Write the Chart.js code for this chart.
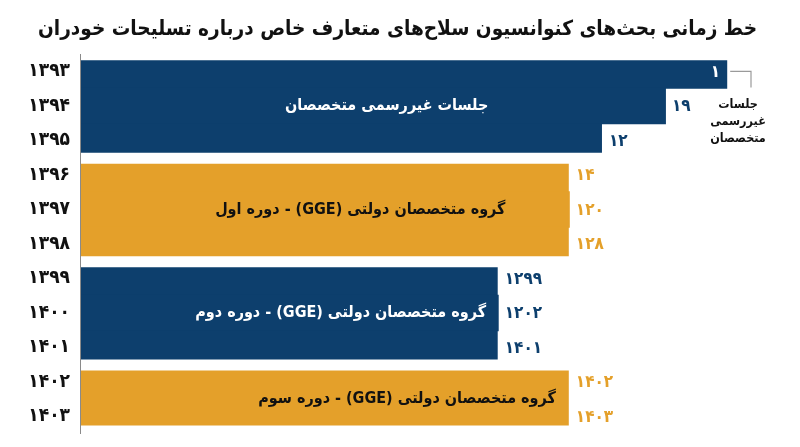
<!DOCTYPE html>
<html lang="fa">
<head>
<meta charset="utf-8">
<title>خط زمانی بحث‌های کنوانسیون سلاح‌های متعارف</title>
<script src="https://cdn.jsdelivr.net/npm/chart.js@4.4.1/dist/chart.umd.min.js"></script>
<style>
  html, body { margin: 0; padding: 0; background: #fff; }
  #wrap { width: 800px; height: 447px; position: relative; }
</style>
</head>
<body>
<div id="wrap"><canvas id="timeline"></canvas></div>
<script>
// Data
const years = ['۱۳۹۳', '۱۳۹۴', '۱۳۹۵', '۱۳۹۶', '۱۳۹۷', '۱۳۹۸', '۱۳۹۹', '۱۴۰۰', '۱۴۰۱', '۱۴۰۲', '۱۴۰۳'];
const spans = [95.6, 86.4, 77.1, 72.2, 72.2, 72.2, 61.7, 61.7, 61.7, 72.2, 72.2];
const endLabels = ['۱', '۱۹', '۱۲', '۱۴', '۱۲۰', '۱۲۸', '۱۲۹۹', '۱۲۰۲', '۱۴۰۱', '۱۴۰۲', '۱۴۰۳'];
const rowGroup = [0, 0, 0, 1, 1, 1, 2, 2, 2, 3, 3];
const groupNames = [
    'جلسات غیررسمی متخصصان',
    'گروه متخصصان دولتی (GGE) - دوره اول',
    'گروه متخصصان دولتی (GGE) - دوره دوم',
    'گروه متخصصان دولتی (GGE) - دوره سوم'
];
const noteLines = ['جلسات', 'غیررسمی', 'متخصصان'];
const titleText = 'خط زمانی بحث‌های کنوانسیون سلاح‌های متعارف خاص درباره تسلیحات خودران';

// Styles
const BLUE = '#0d3f6d';
const ORANGE = '#e4a02a';
const groupColors = [BLUE, ORANGE, BLUE, ORANGE];
const groupTextColors = ['#ffffff', '#111111', '#ffffff', '#111111'];
const groupLabelAt = [45.3, 41.4, 38.5, 48.3];   // centre of each group caption, in x-scale units
const insideRows = [0];                           // end label drawn inside the bar
const FONT = '"DejaVu Sans Condensed", "DejaVu Sans", sans-serif';

function isGroupStart(i) { return i === 0 || rowGroup[i - 1] !== rowGroup[i]; }
function isGroupEnd(i) { return i === rowGroup.length - 1 || rowGroup[i + 1] !== rowGroup[i]; }

// Captions, end numbers and the small callout
const timelineText = {
    id: 'timelineText',
    afterDatasetsDraw(chart) {
        const { ctx, scales: { x, y }, chartArea } = chart;
        ctx.save();
        ctx.direction = 'rtl';
        ctx.textBaseline = 'middle';

        // end numbers
        ctx.font = 'bold 17px ' + FONT;
        endLabels.forEach((t, i) => {
            const end = x.getPixelForValue(spans[i]);
            const yc = y.getPixelForValue(i);
            if (insideRows.includes(i)) {
                ctx.fillStyle = '#fff';
                ctx.textAlign = 'right';
                ctx.fillText(t, end - 7, yc + 1);
            } else {
                ctx.fillStyle = groupColors[rowGroup[i]];
                ctx.textAlign = 'left';
                ctx.fillText(t, end + 7, yc + 1);
            }
        });

        // group captions
        ctx.font = 'bold 16px ' + FONT;
        ctx.textAlign = 'center';
        groupNames.forEach((name, g) => {
            const rows = rowGroup.map((v, i) => v === g ? i : -1).filter(i => i >= 0);
            const yc = (y.getPixelForValue(rows[0]) + y.getPixelForValue(rows[rows.length - 1])) / 2;
            ctx.fillStyle = groupTextColors[g];
            ctx.fillText(name, x.getPixelForValue(groupLabelAt[g]), yc);
        });

        // callout for the first row
        const y0 = y.getPixelForValue(0);
        const lineX = chartArea.right - 6;
        ctx.strokeStyle = '#9a9a9a';
        ctx.lineWidth = 1.2;
        ctx.beginPath();
        ctx.moveTo(x.getPixelForValue(spans[0]) + 3, y0);
        ctx.lineTo(lineX, y0);
        ctx.lineTo(lineX, y0 + 16);
        ctx.stroke();

        ctx.font = 'bold 12.5px ' + FONT;
        ctx.fillStyle = '#111';
        noteLines.forEach((t, k) => {
            ctx.fillText(t, lineX - 13, y0 + 33 + k * 17);
        });
        ctx.restore();
    }
};

new Chart(document.getElementById('timeline'), {
    type: 'bar',
    data: {
        labels: years,
        datasets: [{
            data: spans,
            backgroundColor: ctx => groupColors[rowGroup[ctx.dataIndex]],
            borderColor: '#ffffff',
            borderSkipped: false,
            borderWidth: ctx => ({
                top: isGroupStart(ctx.dataIndex) ? 7 : 0,
                bottom: isGroupEnd(ctx.dataIndex) ? (ctx.dataIndex === rowGroup.length - 1 ? 9 : 6) : 0,
                left: 0,
                right: 0
            }),
            inflateAmount: 1,
            barPercentage: 1,
            categoryPercentage: 1
        }]
    },
    options: {
        indexAxis: 'y',
        responsive: true,
        maintainAspectRatio: false,
        animation: false,
        layout: { padding: { left: 0, right: 43, top: 0, bottom: 6 } },
        plugins: {
            legend: { display: false },
            tooltip: { enabled: false },
            title: {
                display: true,
                text: titleText,
                align: 'end',
                color: '#111',
                font: { family: FONT, size: 20.6, weight: 'bold' },
                padding: { top: 17, bottom: 12.5 }
            }
        },
        scales: {
            x: { display: false, min: 0, max: 100 },
            y: {
                afterFit: s => { s.width = 80; },
                grid: { display: false },
                border: { display: true, color: '#8a8a8a', width: 1, z: 1 },
                ticks: {
                    padding: 2,
                    color: '#111',
                    font: { family: FONT, size: 19, weight: 'bold' }
                }
            }
        }
    },
    plugins: [timelineText]
});
</script>
</body>
</html>
